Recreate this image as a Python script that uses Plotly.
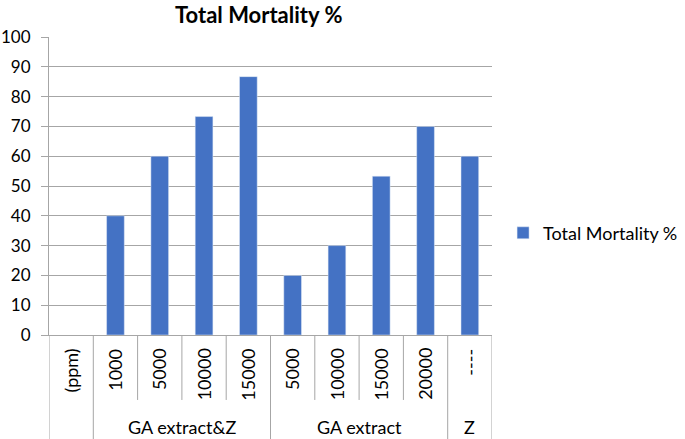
import plotly.graph_objects as go

title_text = "Total Mortality %"
series_name = "Total Mortality %"
tick_labels = ["(ppm)", "1000", "5000", "10000", "15000", "5000", "10000", "15000", "20000", "----"]
values = [None, 40, 60, 73.3, 86.7, 20, 30, 53.3, 70, 60]
groups = ["", "GA extract&Z", "GA extract", "Z"]
group_sizes = [1, 4, 4, 1]

FONT = "Lato, Open Sans, sans-serif"
GRID = "#a6a6a6"
BAR = "#4472C4"

x = list(range(len(tick_labels)))

fig = go.Figure()
fig.add_trace(go.Bar(x=x, y=values, name=series_name, marker=dict(color=BAR),
                     width=0.4, showlegend=True))

annotations = []
shapes = []

# inner category labels
for i, lab in enumerate(tick_labels):
    annotations.append(dict(x=i, y=-0.038, xref="x", yref="paper", text=lab,
                            textangle=-90, showarrow=False, xanchor="center",
                            yanchor="top", font=dict(size=18, color="#000", family=FONT)))

# group labels + boundaries
pos = -0.5
bounds_outer = [pos]
for g, n in zip(groups, group_sizes):
    center = pos + n / 2
    if g:
        annotations.append(dict(x=center, y=-0.309, xref="x", yref="paper", text=g,
                                showarrow=False, xanchor="center", yanchor="middle",
                                font=dict(size=18, color="#000", family=FONT)))
    pos += n
    bounds_outer.append(pos)

for b in [i - 0.5 for i in range(len(tick_labels) + 1)]:
    outer = b in bounds_outer
    shapes.append(dict(type="line", xref="x", yref="paper", x0=b, x1=b,
                       y0=0, y1=(-0.36 if outer else -0.218),
                       line=dict(color=GRID, width=1)))

# title
annotations.append(dict(x=0.472, y=1.074, xref="paper", yref="paper", text="<b>" + title_text + "</b>",
                        showarrow=False, xanchor="center", yanchor="middle",
                        font=dict(size=22, color="#000", family=FONT)))

fig.update_layout(
    width=685, height=439,
    margin=dict(l=49, r=193, t=37, b=104, autoexpand=False),
    paper_bgcolor="white", plot_bgcolor="white",
    font=dict(family=FONT, color="#000", size=16),
    xaxis=dict(range=[-0.5, 9.5], showticklabels=False, showgrid=False,
               zeroline=False, showline=True, linecolor=GRID, linewidth=1,
               ticks="", fixedrange=True),
    yaxis=dict(range=[0, 100], dtick=10, showgrid=True, gridcolor=GRID, gridwidth=1,
               zeroline=False, showline=True, linecolor=GRID, linewidth=1,
               ticks="outside", ticklen=7, tickcolor=GRID, ticklabelstandoff=7,
               tickfont=dict(size=17, color="#000", family=FONT)),
    legend=dict(x=1.025, y=0.342, xanchor="left", yanchor="middle",
                font=dict(size=18, color="#000", family=FONT), bgcolor="rgba(0,0,0,0)"),
    annotations=annotations,
    shapes=shapes,
    showlegend=True,
)

fig.write_html("out.html", post_script="document.body.style.margin='0';",
               config={"displayModeBar": False})
